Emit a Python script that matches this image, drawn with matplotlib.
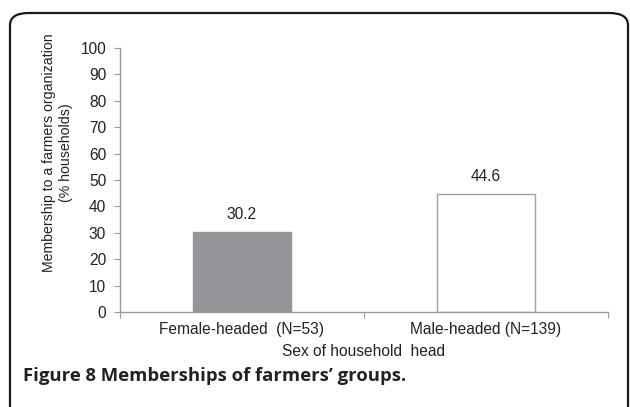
import matplotlib
matplotlib.use("Agg")
import matplotlib.pyplot as plt
from matplotlib.patches import FancyBboxPatch

categories = ["Female-headed  (N=53)", "Male-headed (N=139)"]
values = [30.2, 44.6]
value_labels = ["30.2", "44.6"]
yticks = [0, 10, 20, 30, 40, 50, 60, 70, 80, 90, 100]

plt.rcParams['font.family'] = ['Liberation Sans', 'DejaVu Sans']

fig = plt.figure(figsize=(6.3, 4.07), dpi=100)
ax = fig.add_axes([0.1905, 0.2334, 0.7745, 0.6486])

fs = 11.2
pos = list(range(len(categories)))
ax.bar(pos[0], values[0], width=0.4, color="#939598", edgecolor="#939598", linewidth=1)
ax.bar(pos[1], values[1], width=0.4, color="white", edgecolor="#a0a0a0", linewidth=1)
for p, v, t in zip(pos, values, value_labels):
    ax.text(p, v + 4, t, ha="center", va="bottom", fontsize=fs, color="#222222")

ax.set_xlim(-0.5, 1.5)
ax.set_ylim(0, 100)
ax.set_yticks(yticks)
ax.set_xticks([-0.5, 0.5, 1.5])
ax.set_xticklabels([])
ax.set_xticks(pos, minor=True)
ax.set_xticklabels(categories, minor=True)
ax.tick_params(axis="x", which="minor", length=0, pad=7, labelsize=fs, labelcolor="#222222")
ax.tick_params(axis="x", which="major", length=4, color="#999999")
ax.tick_params(axis="y", length=4, color="#999999", labelsize=fs, labelcolor="#222222", pad=6)
for s in ["top", "right"]:
    ax.spines[s].set_visible(False)
for s in ["left", "bottom"]:
    ax.spines[s].set_color("#999999")
    ax.spines[s].set_linewidth(1)

ax.set_xlabel("Sex of household  head", fontsize=fs, color="#222222", labelpad=5)
ax.set_ylabel("Membership to a farmers organization\n(% households)", fontsize=10.2,
              color="#222222", linespacing=1.2)
ax.yaxis.set_label_coords(-0.097, 0.605)

frame = FancyBboxPatch((10 / 630, -0.2), 628 / 630 - 10 / 630, 1.2 - 13 / 407,
                       boxstyle="round,pad=0,rounding_size=0.03",
                       transform=fig.transFigure, facecolor="none",
                       edgecolor="#1a1a1a", linewidth=1.6, clip_on=False)
fig.patches.append(frame)

fig.text(23 / 630, 1 - 376 / 407, "Figure 8 Memberships of farmers\u2019 groups.",
         fontsize=13.3, fontweight="bold", family=["Open Sans", "DejaVu Sans"],
         va="center", ha="left", color="#222222")

fig.savefig("out.png", dpi=100)
